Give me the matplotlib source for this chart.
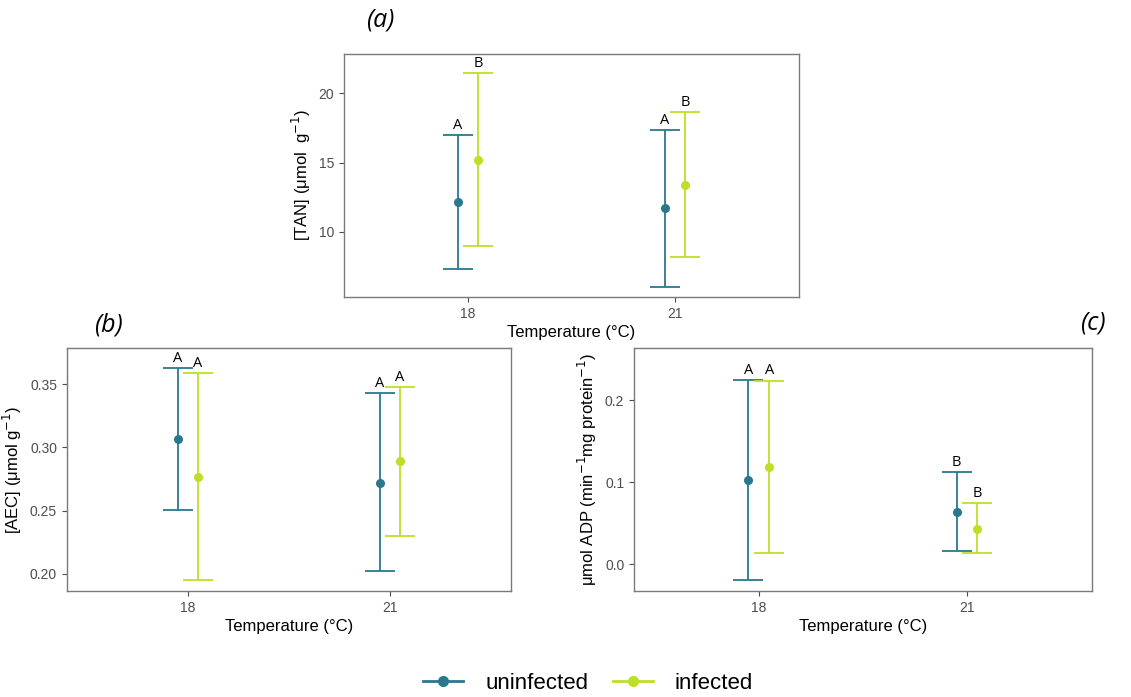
import matplotlib.pyplot as plt
from matplotlib.lines import Line2D
import numpy as np

plt.rcParams['font.family'] = ['Liberation Sans', 'DejaVu Sans']

temps = ['18', '21']
groups = ['uninfected', 'infected']
colors = {'uninfected': '#2A788E', 'infected': '#BDDF26'}

# panel a: [TAN]
tan_mean = {'uninfected': [12.16, 11.71], 'infected': [15.21, 13.41]}
tan_low = {'uninfected': [7.33, 6.03], 'infected': [8.99, 8.17]}
tan_high = {'uninfected': [17.0, 17.35], 'infected': [21.44, 18.67]}
tan_letters = {'uninfected': ['A', 'A'], 'infected': ['B', 'B']}

# panel b: [AEC]
aec_mean = {'uninfected': [0.3066, 0.272], 'infected': [0.2765, 0.2889]}
aec_low = {'uninfected': [0.2508, 0.2021], 'infected': [0.195, 0.23]}
aec_high = {'uninfected': [0.3632, 0.3431], 'infected': [0.359, 0.3476]}
aec_letters = {'uninfected': ['A', 'A'], 'infected': ['A', 'A']}

# panel c: ADP rate
adp_mean = {'uninfected': [0.1028, 0.0642], 'infected': [0.119, 0.0429]}
adp_low = {'uninfected': [-0.019, 0.0166], 'infected': [0.0141, 0.0134]}
adp_high = {'uninfected': [0.2247, 0.1125], 'infected': [0.2237, 0.0746]}
adp_letters = {'uninfected': ['A', 'B'], 'infected': ['A', 'B']}

dodge = {'uninfected': -0.05, 'infected': 0.05}

fig = plt.figure(figsize=(11.31, 6.97), dpi=100)
ax_a = fig.add_axes([0.3042, 0.5739, 0.4023, 0.3486])
ax_b = fig.add_axes([0.059, 0.1521, 0.3926, 0.3482])
ax_c = fig.add_axes([0.5606, 0.1521, 0.4047, 0.3486])


def panel(ax, mean, low, high, letters, ylim, yticks, yticklabels, ylabel):
    x = np.arange(1, len(temps) + 1)
    for g in groups:
        xs = x + dodge[g]
        m = np.array(mean[g])
        lo = np.array(low[g])
        hi = np.array(high[g])
        ax.errorbar(xs, m, yerr=[m - lo, hi - m], fmt='o', color=colors[g],
                    ms=5.5, elinewidth=1.3, capsize=10.5, capthick=1.3, zorder=3)
        for xi, hv, lab in zip(xs, hi, letters[g]):
            ax.annotate(lab, (xi, hv), xytext=(0, 1.5), textcoords='offset points',
                        ha='center', va='bottom', fontsize=10.5, family='Open Sans')
    ax.set_xlim(0.4, 2.6)
    ax.set_xticks(x)
    ax.set_xticklabels(temps)
    ax.set_ylim(*ylim)
    ax.set_yticks(yticks)
    ax.set_yticklabels(yticklabels)
    ax.set_xlabel('Temperature (°C)', fontsize=12, labelpad=3)
    ax.set_ylabel(ylabel, fontsize=12, labelpad=4)
    ax.tick_params(colors='#4D4D4D', labelsize=10, length=3.5, width=0.8)
    for s in ax.spines.values():
        s.set_color('#7a7a7a')
        s.set_linewidth(1.0)


panel(ax_a, tan_mean, tan_low, tan_high, tan_letters, (5.31, 22.83),
      [10, 15, 20], ['10', '15', '20'], '[TAN] (μmol  g$^{-1}$)')
panel(ax_b, aec_mean, aec_low, aec_high, aec_letters, (0.1863, 0.3785),
      [0.20, 0.25, 0.30, 0.35], ['0.20', '0.25', '0.30', '0.35'], '[AEC] (μmol g$^{-1}$)')
panel(ax_c, adp_mean, adp_low, adp_high, adp_letters, (-0.0325, 0.2633),
      [0.0, 0.1, 0.2], ['0.0', '0.1', '0.2'], 'μmol ADP (min$^{-1}$mg protein$^{-1}$)')

fig.text(380 / 1131, 1 - 20 / 697, '(a)', fontsize=18, style='italic',
         family='Open Sans', ha='center', va='center')
fig.text(108 / 1131, 1 - 325 / 697, '(b)', fontsize=18, style='italic',
         family='Open Sans', ha='center', va='center')
fig.text(1093 / 1131, 1 - 323 / 697, '(c)', fontsize=18, style='italic',
         family='Open Sans', ha='center', va='center')

handles = [Line2D([0], [0], color=colors[g], marker='o', ms=7, lw=2) for g in groups]
fig.legend(handles, groups, loc='center', bbox_to_anchor=(0.52, 0.02), ncol=2,
           frameon=False, fontsize=16, handlelength=1.8, columnspacing=1.1,
           handletextpad=1.0)

fig.savefig('out.png', dpi=100)
